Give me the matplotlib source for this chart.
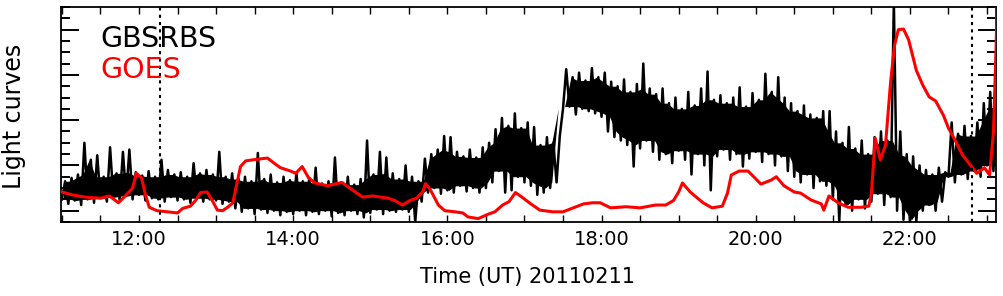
import matplotlib
matplotlib.use("Agg")
import matplotlib.pyplot as plt
import numpy as np
from matplotlib.ticker import MultipleLocator, FixedLocator, FuncFormatter, NullFormatter

# ---------------- data (arbitrary units) ----------------
# GOES light curve (red)
red_time = ["11:00","11:08","11:18","11:30","11:37","11:44","11:51","11:55","11:58","12:02",
            "12:05","12:08","12:14","12:22","12:30","12:34","12:40","12:44","12:48","12:53",
            "12:57","13:01","13:05","13:09","13:13","13:16","13:19","13:23","13:29","13:36",
            "13:40","13:44","13:50","13:58","14:02","14:07","14:12","14:17","14:27","14:38",
            "14:44","14:54","15:02","15:14","15:19","15:25","15:31","15:36","15:41","15:43",
            "15:47","15:53","15:58","16:06","16:12","16:16","16:24","16:32","16:37","16:43",
            "16:48","16:53","16:58","17:05","17:12","17:22","17:30","17:38","17:46","17:53",
            "17:59","18:07","18:19","18:30","18:42","18:50","18:56","19:00","19:03","19:09",
            "19:19","19:26","19:34","19:38","19:41","19:47","19:54","19:58","20:04","20:12",
            "20:16","20:22","20:30","20:35","20:43","20:51","20:53","20:57","21:04","21:12",
            "21:22","21:28","21:30","21:33","21:37","21:41","21:45","21:48","21:51","21:55",
            "21:59","22:05","22:10","22:15","22:20","22:26","22:30","22:36","22:41","22:46",
            "22:52","22:58","23:02","23:05","23:07","23:08"]
red_val = [2.65,2.4,2.2,2.1,2.3,1.7,2.5,3.0,4.3,3.9,
           2.4,1.3,1.0,0.9,0.8,1.2,1.4,1.9,2.6,2.65,
           1.9,1.05,1.0,1.3,1.7,3.3,4.9,5.4,5.5,5.6,
           5.65,5.3,4.8,4.5,4.3,4.9,3.9,3.45,3.2,3.5,
           3.0,2.2,2.3,2.1,1.9,1.5,1.9,2.1,2.7,3.4,
           2.8,1.5,1.0,0.9,0.8,0.45,0.3,0.7,0.9,1.5,
           1.8,2.6,2.2,1.6,1.05,0.9,0.9,1.25,1.6,1.7,
           1.7,1.25,1.35,1.25,1.5,1.5,1.9,2.65,3.45,2.65,
           1.7,1.25,1.4,2.55,4.15,4.5,4.5,4.05,3.35,3.7,
           4.0,3.2,2.65,2.55,1.95,1.6,1.05,2.3,1.7,1.3,
           1.3,1.4,2.5,7.4,5.5,6.8,12.4,15.6,17.0,17.05,
           16.1,13.4,12.1,11.05,10.7,9.45,8.3,7.05,5.9,5.2,
           4.3,4.8,4.15,7.9,15.2,19.5]

# GBSRBS light curve (black): low / high excursion in each 5-minute bin from 11:00
black_start = "11:00"
black_step_min = 5
black_lo = [2.0,1.6,1.9,1.5,2.0,1.7,2.1,1.8,2.2,1.9,2.3,2.0,   # 11h
            2.4,1.9,2.1,2.0,1.8,2.2,1.9,2.0,1.7,2.1,1.8,2.0,   # 12h
            1.9,1.6,1.8,1.2,0.9,1.2,0.7,1.1,0.8,1.0,0.6,0.9,   # 13h
            0.7,1.0,0.6,0.9,0.7,1.0,0.5,0.8,0.6,1.0,0.7,0.4,   # 14h
            0.8,1.1,0.7,1.0,0.9,1.1,0.9,0.0,1.8,2.6,3.0,2.5,   # 15h
            2.8,2.6,3.2,2.7,3.0,2.6,3.0,3.5,4.5,2.6,2.8,4.0,   # 16h
            3.5,3.2,2.4,2.6,3.0,3.5,10.0,10.2,9.5,10.0,9.8,9.6, # 17h
            9.3,8.0,7.5,7.2,6.8,4.9,6.5,7.2,6.2,5.5,6.0,5.2,   # 18h
            6.3,5.5,4.2,6.0,5.0,2.8,5.8,6.4,5.5,6.0,4.9,5.6,   # 19h
            6.2,5.3,6.0,5.0,5.8,4.5,4.0,3.5,4.2,3.0,3.6,3.2,   # 20h
            2.0,0.0,1.5,1.0,2.0,1.2,1.8,2.5,1.5,2.2,1.0,0.2,   # 21h
            0.0,0.0,1.0,1.5,1.0,1.8,4.0,3.5,4.2,3.8,4.5,4.0,   # 22h
            5.0,4.5]                                            # 23h
black_hi = [3.6,3.9,4.2,7.0,5.5,5.9,4.0,6.6,4.3,6.2,6.4,4.4,
            4.1,4.5,4.0,5.5,4.6,4.2,4.4,4.0,5.2,4.3,4.6,4.2,
            6.2,4.0,4.3,3.8,4.0,3.6,6.1,3.8,4.2,3.5,4.0,3.7,
            4.4,3.6,3.9,4.8,3.4,3.6,5.7,3.5,4.0,3.3,3.8,7.2,
            4.2,6.2,5.7,4.3,3.8,5.0,4.0,3.6,5.6,6.0,6.4,7.6,
            7.5,6.2,5.8,6.4,5.7,6.6,7.0,8.2,9.2,8.5,9.6,8.3,
            8.8,8.4,6.8,7.5,7.0,7.6,13.5,12.8,13.2,12.5,13.6,12.8,
            13.2,12.4,12.0,12.6,11.5,12.2,14.0,11.8,11.3,11.8,10.5,11.0,
            10.0,11.5,10.3,11.8,13.3,10.8,11.2,10.5,11.0,11.9,10.2,11.4,
            10.8,13.1,11.5,12.8,11.0,10.5,9.8,10.3,9.5,9.2,9.8,9.8,
            8.0,7.0,8.4,6.5,7.2,6.0,7.5,8.0,7.2,19.5,8.0,6.0,
            5.8,5.0,4.6,4.2,4.8,4.4,8.8,7.8,8.5,7.6,8.8,10.5,
            11.5,10.0]

marker_times = ["12:16", "22:48"]     # dotted vertical lines
legend_labels = ["GBSRBS", "GOES"]
legend_colors = ["black", "red"]
x_label = "Time (UT) 20110211"
y_label = "Light curves"


def hours(s):
    h, m = s.split(":")
    return int(h) + float(m) / 60.0


# ---------------- figure ----------------
W, H = 1004, 296
fig = plt.figure(figsize=(W / 100, H / 100), dpi=100)
ax = fig.add_axes([61 / W, (H - 222) / H, 935 / W, 215 / H])

# black: each 5-min bin drawn as a low->high excursion (zig-zag),
# with the dense core of the band filled in
lo = np.asarray(black_lo, dtype=float)
hi = np.asarray(black_hi, dtype=float)
t0 = hours(black_start)
n = len(lo)
bt = t0 + np.arange(n) * black_step_min / 60.0
half = black_step_min / 120.0

lo_pad = np.concatenate([[lo[0]], lo, [lo[-1]]])
hi_pad = np.concatenate([[hi[0]], hi, [hi[-1]]])
core_lo = np.max([lo_pad[:-2], lo_pad[1:-1], lo_pad[2:]], axis=0)
core_hi = np.min([hi_pad[:-2], hi_pad[1:-1], hi_pad[2:]], axis=0)
core_hi = np.maximum(core_hi, core_lo)
ax.fill_between(bt + half / 2, core_lo, core_hi, color="black", lw=0, zorder=2)

bx = np.empty(2 * n)
by = np.empty(2 * n)
bx[0::2] = bt
bx[1::2] = bt + half
by[0::2] = lo
by[1::2] = hi
ax.plot(bx, by, color="black", lw=1.8, zorder=2)

rt = [hours(s) for s in red_time]
ax.plot(rt, red_val, color="red", lw=2.2, zorder=3)

for s in marker_times:
    ax.axvline(hours(s), color="black", lw=1.5, ls=(0, (1.5, 2.0)), zorder=4)

ax.set_xlim(10 + 59.3 / 60, 23 + 7 / 60)
ax.set_ylim(0, 19)

ax.yaxis.set_major_locator(FixedLocator([1, 5, 9, 13, 17]))
ax.yaxis.set_minor_locator(MultipleLocator(1))
ax.yaxis.set_major_formatter(NullFormatter())
ax.tick_params(axis="y", which="major", direction="in", length=13, width=1.4,
               left=True, right=True)
ax.tick_params(axis="y", which="minor", direction="in", length=6.5, width=1.4,
               left=True, right=True)

ax.xaxis.set_major_locator(MultipleLocator(2))
ax.xaxis.set_minor_locator(MultipleLocator(0.5))
ax.xaxis.set_major_formatter(FuncFormatter(lambda v, p: f"{int(round(v))}:00"))
ax.tick_params(axis="x", which="both", direction="in", length=5, width=1.0,
               top=True, bottom=True, labelsize=14, pad=6)
for sp in ax.spines.values():
    sp.set_linewidth(1.3)

# legend-like labels
fig.text(100 / W, 1 - 47 / H, legend_labels[0], color=legend_colors[0],
         fontsize=20.5, ha="left", va="baseline")
fig.text(100 / W, 1 - 78 / H, legend_labels[1], color=legend_colors[1],
         fontsize=20.5, ha="left", va="baseline")

fig.text(14 / W, 1 - 116 / H, y_label, rotation=90, fontsize=17,
         ha="center", va="center")
fig.text(528 / W, 1 - 283 / H, x_label, fontsize=15, ha="center", va="baseline")

fig.savefig("out.png", dpi=100)
